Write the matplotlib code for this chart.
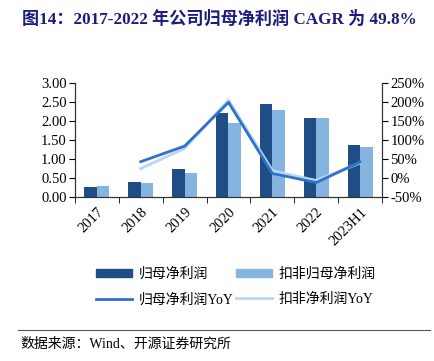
import matplotlib
matplotlib.use("Agg")
import matplotlib.pyplot as plt
import numpy as np
from matplotlib.patches import Patch
from matplotlib.lines import Line2D

categories = ["2017", "2018", "2019", "2020", "2021", "2022", "2023H1"]
net_profit = [0.27, 0.39, 0.73, 2.20, 2.46, 2.08, 1.36]
net_profit_deducted = [0.30, 0.37, 0.63, 1.94, 2.28, 2.08, 1.32]
net_profit_yoy = [np.nan, 43, 84, 199, 12, -12, 42]
net_profit_deducted_yoy = [np.nan, 25, 78, 205, 19, -7, 40]

left_ticks = [0.0, 0.5, 1.0, 1.5, 2.0, 2.5, 3.0]
right_ticks = [-50, 0, 50, 100, 150, 200, 250]

serif = ["Liberation Serif", "Noto Sans CJK SC"]
plt.rcParams["font.family"] = serif

c_dark = "#1F4E87"
c_light = "#85B4E0"
c_line_dark = "#2E72CC"
c_line_light = "#BDD7EE"

fig = plt.figure(figsize=(4.35, 3.61), dpi=100)
W, H = 435, 361
ax = fig.add_axes([75 / W, 1 - 197 / H, (382 - 75) / W, (197 - 83) / H])
ax2 = ax.twinx()

x = np.arange(len(categories))
bw = 0.285
ax.bar(x - bw / 2, net_profit, bw, color=c_dark, zorder=2)
ax.bar(x + bw / 2, net_profit_deducted, bw, color=c_light, zorder=2)
ax.set_xlim(-0.5, len(categories) - 0.5)
ax.set_ylim(0, 3.0)
ax.set_yticks(left_ticks)
ax.set_yticklabels([f"{v:.2f}" for v in left_ticks], fontsize=10.5)
ax.set_xticks(x)
ax.set_xticklabels(categories, rotation=45, ha="right", rotation_mode="anchor", fontsize=10.5)
ax.set_xticks(np.arange(len(categories) + 1) - 0.5, minor=True)
ax.tick_params(axis="x", which="major", length=0, pad=6)
ax.tick_params(axis="x", which="minor", length=4, direction="out")
ax.tick_params(axis="y", length=4, direction="out", pad=2)

ax2.plot(x, net_profit_deducted_yoy, color=c_line_light, lw=2.2, zorder=3)
ax2.plot(x, net_profit_yoy, color=c_line_dark, lw=2.0, zorder=4)
ax2.set_ylim(-50, 250)
ax2.set_yticks(right_ticks)
ax2.set_yticklabels([f"{v}%" for v in right_ticks], fontsize=10.5)
ax2.tick_params(axis="y", length=4, direction="out", pad=2)

for a in (ax, ax2):
    a.spines["top"].set_visible(False)
    for s in ("left", "right", "bottom"):
        a.spines[s].set_color("#333333")
        a.spines[s].set_linewidth(0.8)

fig.text(22 / W, 1 - 19 / H, "图14：2017-2022 年公司归母净利润 CAGR 为 49.8%",
         fontsize=12.3, fontweight="bold", color="#1C1C80", va="center", ha="left",
         family=serif)

handles = [Patch(color=c_dark), Line2D([], [], color=c_line_dark, lw=2),
           Patch(color=c_light), Line2D([], [], color=c_line_light, lw=2)]
labels = ["归母净利润", "归母净利润YoY", "扣非归母净利润", "扣非净利润YoY"]
leg = fig.legend(handles, labels, ncol=2, loc="center", bbox_to_anchor=(236 / W, 1 - 287 / H),
                 frameon=False, fontsize=10, handlelength=2.6, handleheight=0.55,
                 columnspacing=0.2, labelspacing=0.85, handletextpad=0.45)

fig.add_artist(Line2D([18 / W, 430 / W], [1 - 330 / H, 1 - 330 / H], color="#555555", lw=0.8))
fig.text(20 / W, 1 - 344 / H, "数据来源：Wind、开源证券研究所", fontsize=10, va="center", ha="left")

fig.savefig("out.png", dpi=100)
